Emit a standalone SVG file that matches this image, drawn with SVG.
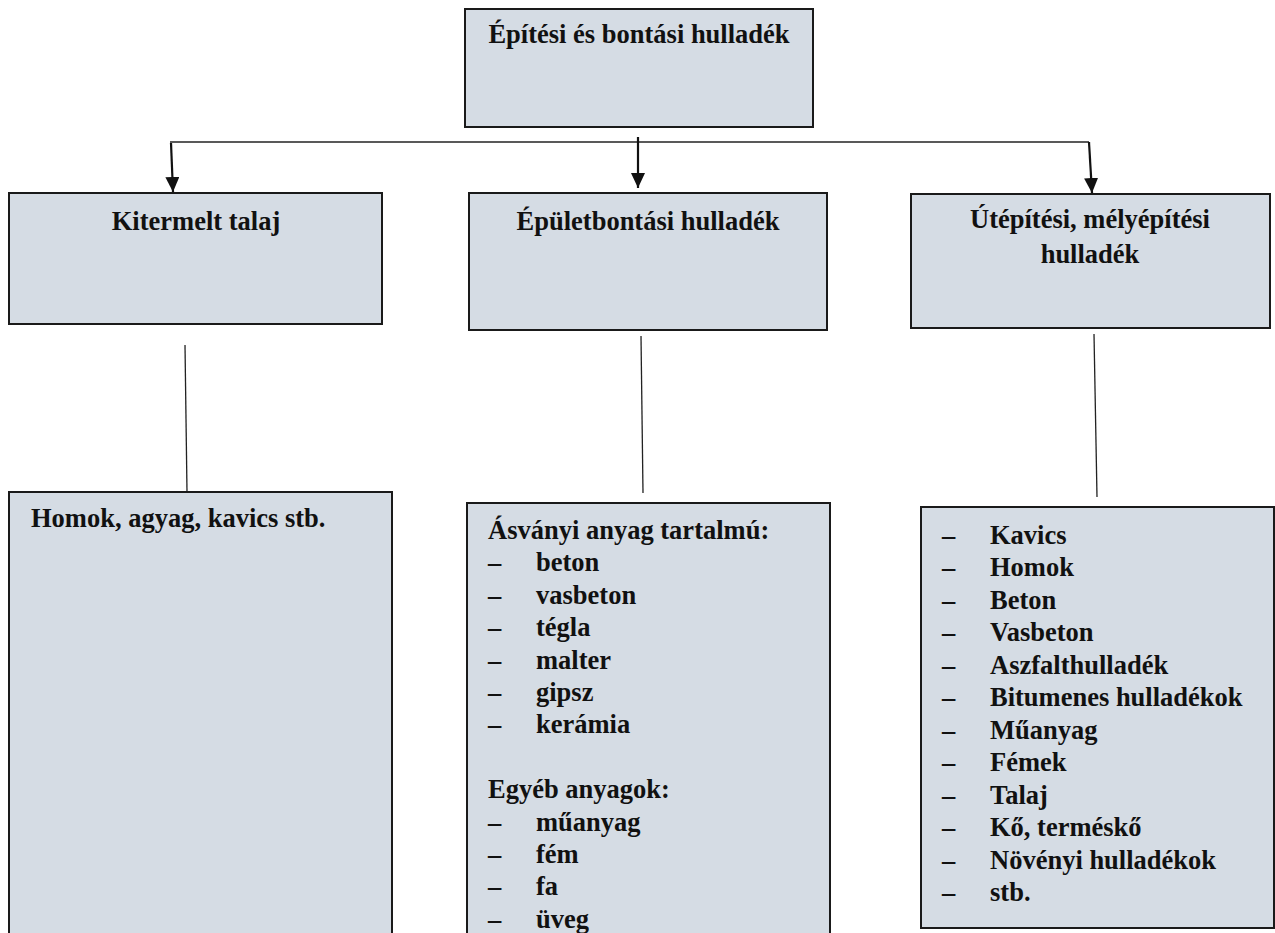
<svg xmlns="http://www.w3.org/2000/svg" width="1275" height="933" viewBox="0 0 1275 933">
<style>
.box{fill:#D5DCE4;stroke:#1a1a1a;stroke-width:2}
.t{font-family:"Liberation Serif","Times New Roman",serif;font-weight:bold;font-size:26.5px;fill:#111}
.c{text-anchor:middle}
.ln{stroke:#222;stroke-width:1.3;fill:none}
.ar{stroke:#111;stroke-width:2.2;fill:none}
</style>
<defs>
<marker id="ah" markerUnits="userSpaceOnUse" markerWidth="16" markerHeight="16" refX="15" refY="7" orient="auto">
<path d="M0,0 L15,7 L0,14 z" fill="#111"/>
</marker>
</defs>
<rect width="1275" height="933" fill="#fff"/>
<g id="connectors">
<line class="ln" x1="170" y1="142" x2="1089" y2="142"/>
<line class="ar" x1="171" y1="143" x2="173" y2="192" marker-end="url(#ah)"/>
<line class="ar" x1="638" y1="137" x2="638" y2="188" marker-end="url(#ah)"/>
<line class="ar" x1="1089" y1="142" x2="1092" y2="193" marker-end="url(#ah)"/>
<line class="ln" x1="185" y1="345" x2="187" y2="492"/>
<line class="ln" x1="641" y1="336" x2="643" y2="493"/>
<line class="ln" x1="1094" y1="334" x2="1097" y2="497"/>
</g>
<g id="root">
<rect class="box" x="465" y="9" width="348" height="118"/>
<text class="t c" x="639" y="43">Építési és bontási hulladék</text>
</g>
<g id="kitermelt">
<rect class="box" x="9" y="193" width="373" height="131"/>
<text class="t c" x="196" y="230">Kitermelt talaj</text>
</g>
<g id="epuletbontasi">
<rect class="box" x="469" y="193" width="358" height="137"/>
<text class="t c" x="648" y="230">Épületbontási hulladék</text>
</g>
<g id="utepitesi">
<rect class="box" x="911" y="194" width="359" height="134"/>
<text class="t c" x="1090" y="228">Útépítési, mélyépítési</text>
<text class="t c" x="1090" y="263">hulladék</text>
</g>
<g id="talaj-lista">
<rect class="box" x="9" y="492" width="383" height="460"/>
<text class="t" x="31" y="527">Homok, agyag, kavics stb.</text>
</g>
<g id="epulet-lista">
<rect class="box" x="467" y="503" width="363" height="450"/>
<text class="t" x="488" y="539">Ásványi anyag tartalmú:</text>
<text class="t" x="488" y="571.4">–</text><text class="t" x="536" y="571.4">beton</text>
<text class="t" x="488" y="603.8">–</text><text class="t" x="536" y="603.8">vasbeton</text>
<text class="t" x="488" y="636.2">–</text><text class="t" x="536" y="636.2">tégla</text>
<text class="t" x="488" y="668.6">–</text><text class="t" x="536" y="668.6">malter</text>
<text class="t" x="488" y="701">–</text><text class="t" x="536" y="701">gipsz</text>
<text class="t" x="488" y="733.4">–</text><text class="t" x="536" y="733.4">kerámia</text>
<text class="t" x="488" y="798.2">Egyéb anyagok:</text>
<text class="t" x="488" y="830.6">–</text><text class="t" x="536" y="830.6">műanyag</text>
<text class="t" x="488" y="863">–</text><text class="t" x="536" y="863">fém</text>
<text class="t" x="488" y="895.4">–</text><text class="t" x="536" y="895.4">fa</text>
<text class="t" x="488" y="927.8">–</text><text class="t" x="536" y="927.8">üveg</text>
</g>
<g id="ut-lista">
<rect class="box" x="921" y="507" width="353" height="421"/>
<text class="t" x="942" y="544">–</text><text class="t" x="990" y="544">Kavics</text>
<text class="t" x="942" y="576">–</text><text class="t" x="990" y="576">Homok</text>
<text class="t" x="942" y="609">–</text><text class="t" x="990" y="609">Beton</text>
<text class="t" x="942" y="641">–</text><text class="t" x="990" y="641">Vasbeton</text>
<text class="t" x="942" y="674">–</text><text class="t" x="990" y="674">Aszfalthulladék</text>
<text class="t" x="942" y="706">–</text><text class="t" x="990" y="706">Bitumenes hulladékok</text>
<text class="t" x="942" y="739">–</text><text class="t" x="990" y="739">Műanyag</text>
<text class="t" x="942" y="771">–</text><text class="t" x="990" y="771">Fémek</text>
<text class="t" x="942" y="804">–</text><text class="t" x="990" y="804">Talaj</text>
<text class="t" x="942" y="836">–</text><text class="t" x="990" y="836">Kő, terméskő</text>
<text class="t" x="942" y="869">–</text><text class="t" x="990" y="869">Növényi hulladékok</text>
<text class="t" x="942" y="901">–</text><text class="t" x="990" y="901">stb.</text>
</g>
</svg>
